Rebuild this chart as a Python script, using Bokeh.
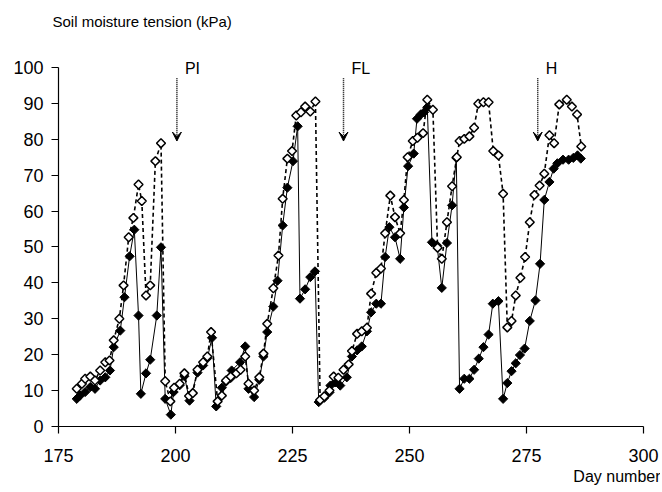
from bokeh.plotting import figure
from bokeh.models import FixedTicker, Label, Arrow, VeeHead, Range1d, Title
from bokeh.embed import file_html
from bokeh.resources import INLINE
import numpy as np

# ---- data ----
filled_day = [178.9, 179.6, 180.7, 181.8, 182.8, 183.9, 185.0, 186.0, 186.8, 188.2,
              189.1, 190.2, 191.2, 192.1, 192.6, 193.7, 194.6, 196.0, 196.9, 197.8,
              199.0, 199.6, 200.9, 201.9, 203.0, 204.7, 205.9, 206.8, 207.8, 208.7,
              209.9, 210.8, 211.8, 212.0, 213.8, 214.9, 215.6, 216.8, 217.9, 218.8,
              219.6, 220.9, 221.8, 222.9, 223.9, 225.1, 226.1, 226.6, 227.7, 228.8,
              229.8, 230.6, 231.8, 232.9, 233.1, 234.1, 235.2, 236.6, 237.7, 238.8,
              239.8, 240.9, 241.8, 242.9, 243.9, 244.8, 245.7, 246.9, 248.0, 248.8,
              249.7, 250.9, 251.6, 252.4, 253.1, 253.8, 254.8, 255.9, 256.9, 258.0,
              259.1, 260.0, 260.7, 261.7, 262.8, 263.8, 264.8, 265.8, 266.9, 267.8,
              269.0, 270.0, 270.9, 271.8, 272.7, 273.6, 274.6, 275.7, 276.9, 277.9,
              278.8, 279.9, 280.8, 281.6, 282.8, 284.0, 285.0, 285.9, 286.6]
filled_kpa = [7.7, 8.6, 9.6, 11.0, 10.5, 12.8, 13.7, 15.6, 22.1, 26.7,
              36.0, 47.4, 54.8, 30.9, 9.1, 14.8, 18.6, 30.9, 49.9, 7.7,
              3.3, 9.6, 11.5, 14.0, 7.2, 15.0, 17.0, 19.0, 24.7, 5.6,
              10.8, 12.5, 13.5, 15.6, 17.9, 22.3, 10.5, 8.2, 13.0, 19.5,
              26.3, 33.4, 40.6, 56.0, 66.5, 73.9, 83.6, 35.6, 38.2, 41.6,
              43.2, 6.8, 8.0, 9.5, 11.4, 12.3, 11.4, 13.7, 19.5, 21.2,
              22.3, 26.5, 31.8, 34.2, 34.2, 47.2, 55.5, 52.7, 46.7, 61.0,
              72.5, 76.0, 85.7, 86.9, 87.5, 88.9, 51.3, 50.4, 38.6, 51.1,
              61.6, 74.8, 10.5, 13.3, 13.3, 15.8, 18.9, 22.1, 25.6, 34.2,
              34.9, 7.7, 12.1, 15.4, 17.6, 19.9, 21.7, 29.4, 35.1, 45.3,
              63.1, 68.1, 71.8, 73.3, 74.3, 74.3, 74.8, 75.5, 74.6]

open_day = [178.9, 180.0, 180.7, 181.8, 182.8, 183.9, 185.0, 185.9, 186.8, 188.0,
            188.9, 190.0, 191.0, 192.1, 192.8, 193.7, 194.6, 195.7, 196.9, 197.8,
            198.9, 199.7, 200.9, 201.9, 202.9, 203.7, 204.7, 205.9, 206.8, 207.6,
            209.0, 209.9, 210.8, 211.8, 213.0, 213.9, 214.9, 215.6, 216.8, 217.9,
            218.8, 219.6, 220.9, 222.0, 222.9, 223.9, 224.9, 225.8, 226.8, 227.7,
            228.8, 229.9, 230.9, 231.8, 232.9, 233.8, 234.8, 235.9, 237.0, 237.7,
            238.8, 239.8, 240.9, 241.8, 242.9, 243.9, 244.8, 245.9, 246.9, 248.0,
            248.8, 249.6, 250.7, 251.7, 252.9, 253.8, 255.0, 256.0, 256.9, 258.0,
            259.1, 260.1, 260.7, 261.7, 262.8, 263.8, 264.7, 265.8, 266.9, 267.9,
            269.0, 270.0, 270.9, 271.8, 272.7, 273.7, 274.7, 275.7, 276.7, 277.8,
            278.8, 279.9, 280.9, 282.0, 283.6, 284.7, 285.8, 286.7]
open_kpa = [10.5, 11.9, 13.3, 13.9, 12.8, 15.6, 17.9, 18.4, 24.0, 30.0,
            39.3, 52.7, 58.1, 67.4, 62.8, 36.5, 39.3, 73.9, 78.9, 12.6,
            7.0, 10.8, 11.9, 14.8, 8.5, 9.3, 15.8, 17.9, 19.5, 26.3,
            7.0, 8.6, 12.8, 13.9, 14.8, 15.8, 19.5, 11.9, 10.0, 13.7,
            20.3, 28.6, 38.5, 47.6, 63.4, 74.6, 76.7, 86.6, 87.5, 89.1,
            87.7, 90.5, 7.4, 8.4, 10.0, 13.9, 13.6, 15.8, 17.3, 21.0,
            25.8, 26.5, 27.5, 37.0, 42.8, 44.0, 53.8, 64.3, 58.3, 53.8,
            63.1, 75.0, 79.5, 80.4, 81.7, 91.0, 88.2, 49.8, 46.7, 56.9,
            66.9, 75.0, 79.5, 80.1, 80.8, 83.2, 89.9, 90.3, 90.3, 76.7,
            75.5, 64.8, 27.6, 29.4, 36.5, 41.4, 47.2, 56.9, 64.5, 67.1,
            70.4, 81.1, 78.9, 89.7, 91.0, 89.1, 86.9, 78.0]

x_ticks = [175, 200, 225, 250, 275, 300]
y_ticks = [0, 10, 20, 30, 40, 50, 60, 70, 80, 90, 100]
event_labels = ["PI", "FL", "H"]
event_day = [200.3, 235.9, 277.4]
arrow_top = 97
arrow_tip = 79.5
y_title = "Soil moisture tension (kPa)"
x_title = "Day number"

FONT = "Liberation Sans"

p = figure(width=660, height=490,
           x_range=Range1d(175, 300), y_range=Range1d(0, 110),
           output_backend="svg", toolbar_location=None,
           min_border_left=58, min_border_right=17,
           min_border_top=31, min_border_bottom=64)

p.background_fill_color = "white"
p.border_fill_color = "white"
p.outline_line_color = None
p.xgrid.visible = False
p.ygrid.visible = False

for ax in (p.xaxis[0], p.yaxis[0]):
    ax.axis_line_color = "black"
    ax.axis_line_width = 1.2
    ax.major_tick_line_color = "black"
    ax.major_tick_line_width = 1.2
    ax.major_tick_in = 0
    ax.major_tick_out = 7
    ax.minor_tick_line_color = None
    ax.major_label_text_font = FONT
    ax.major_label_text_font_size = "18px"
    ax.major_label_text_color = "black"

p.xaxis[0].ticker = FixedTicker(ticks=x_ticks)
p.yaxis[0].ticker = FixedTicker(ticks=y_ticks)
p.xaxis[0].bounds = (x_ticks[0], x_ticks[-1])
p.yaxis[0].bounds = (y_ticks[0], y_ticks[-1])
p.xaxis[0].major_label_standoff = 15
p.yaxis[0].major_label_standoff = 8

# titles outside the frame
p.title.text = y_title
p.title.align = "left"
p.title.offset = -6
p.title.standoff = 3
p.title.text_font = FONT
p.title.text_font_size = "15px"
p.title.text_font_style = "normal"
p.title.text_color = "black"

p.add_layout(Title(text=x_title, align="right", offset=-17, standoff=3,
                   text_font=FONT, text_font_size="16px",
                   text_font_style="normal", text_color="black"), "below")

# filled series
p.line(filled_day, filled_kpa, line_color="black", line_width=1)
p.scatter(filled_day, filled_kpa, marker="square", angle=np.pi / 4, size=6.5,
          fill_color="black", line_color="black", line_width=1)

# open series
p.line(open_day, open_kpa, line_color="black", line_width=1.6, line_dash="4 3")
p.scatter(open_day, open_kpa, marker="square", angle=np.pi / 4, size=6.3,
          fill_color="white", line_color="black", line_width=1.5)

# event arrows and labels
for lab, d in zip(event_labels, event_day):
    p.add_layout(Arrow(x_start=d, y_start=arrow_top, x_end=d, y_end=arrow_tip,
                       line_color="black", line_width=1.5, line_dash="1 1",
                       end=VeeHead(size=9, fill_color="black", line_color="black",
                                   line_width=1)))
    p.add_layout(Label(x=d, y=100, x_offset=8, y_offset=-1, text=lab,
                       text_font=FONT, text_font_size="16px", text_color="black",
                       text_baseline="alphabetic", text_align="left"))

open("out.html", "w").write(file_html(p, INLINE))
